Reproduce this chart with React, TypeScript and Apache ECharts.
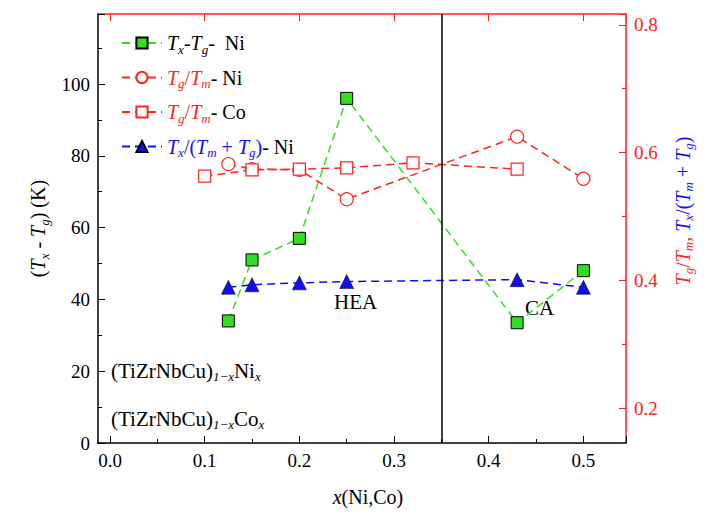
import React, { useEffect, useRef } from 'react';
import * as echarts from 'echarts';

const xNi = [0.125, 0.15, 0.2, 0.25, 0.43, 0.5];
const xCo = [0.1, 0.15, 0.2, 0.25, 0.32, 0.43];
const dTNi = [34, 51, 57, 96, 33.5, 48];
const tgTmNi = [0.582, 0.574, 0.573, 0.527, 0.625, 0.559];
const tgTmCo = [0.563, 0.573, 0.574, 0.576, 0.584, 0.574];
const gammaNi = [0.389, 0.393, 0.396, 0.398, 0.401, 0.389];

const FONT = '"Liberation Serif", "DejaVu Serif", serif';
const GREEN = '#33dd22';
const RED = '#ff2222';
const BLUE = '#1010ee';

const pair = (xs: number[], ys: number[]) => xs.map((x, i) => [x, ys[i]]);

const rich = (c: string) => ({
  i: { fontFamily: FONT, fontSize: 20, fontStyle: 'italic', color: c },
  s: { fontFamily: FONT, fontSize: 13, fontStyle: 'italic', color: c, verticalAlign: 'bottom', padding: [12, 0, 0, 0] },
  n: { fontFamily: FONT, fontSize: 20, color: c },
  k: { fontFamily: FONT, fontSize: 20, color: '#000' },
});

const App: React.FC = () => {
  const ref = useRef<HTMLDivElement>(null);

  useEffect(() => {
    if (!ref.current) return;
    const chart = echarts.init(ref.current, undefined, { renderer: 'svg' });
    const tick = { inside: true, length: 7, lineStyle: { color: '#000' } };
    const minor = { show: true, splitNumber: 2, length: 4, lineStyle: { color: '#000' } };
    const legendRich = {
      ...rich('#000'),
      ri: rich(RED).i, rs: rich(RED).s, rn: rich(RED).n,
      bi: rich(BLUE).i, bs: rich(BLUE).s, bn: rich(BLUE).n,
    };
    const labels: Record<string, string> = {
      a: '{i|T}{s|x}{k|-}{i|T}{s|g}{k|-  Ni}',
      b: '{ri|T}{rs|g}{rn|/}{ri|T}{rs|m}{k|- Ni}',
      c: '{ri|T}{rs|g}{rn|/}{ri|T}{rs|m}{k|- Co}',
      d: '{bi|T}{bs|x}{bn|/(}{bi|T}{bs|m}{bn| + }{bi|T}{bs|g}{bn|)}{k|- Ni}',
    };
    const sub = {
      n: { fontFamily: FONT, fontSize: 21, fill: '#000' },
      s: { fontFamily: FONT, fontSize: 13, fontStyle: 'italic', fill: '#000', verticalAlign: 'bottom', padding: [12, 0, 0, 0] },
    };
    chart.setOption({
      animation: false,
      textStyle: { fontFamily: FONT },
      grid: [
        { left: 102, right: 79, top: 6, bottom: 78 },
        { left: 102, right: 79, top: 6, bottom: 113 },
      ],
      legend: {
        orient: 'vertical', left: 108, top: 20, itemGap: 12, itemWidth: 40, itemHeight: 14,
        formatter: (n: string) => labels[n],
        textStyle: { fontFamily: FONT, rich: legendRich },
        data: ['a', 'b', 'c', 'd'],
      },
      xAxis: [
        {
          type: 'value', gridIndex: 0, min: 0, max: 0.545, interval: 0.1,
          axisLine: { onZero: false, lineStyle: { color: '#000', width: 1.5 } },
          axisTick: tick, minorTick: minor, splitLine: { show: false },
          axisLabel: {
            fontFamily: FONT, fontSize: 19, color: '#000', showMaxLabel: false,
            formatter: (v: number) => v.toFixed(1),
          },
          name: '{i|x}{n|(Ni,Co)}', nameLocation: 'middle', nameGap: 44,
          nameTextStyle: { rich: rich('#000') },
        },
        {
          type: 'value', gridIndex: 0, position: 'top', min: 0, max: 0.545, interval: 0.1,
          axisLine: { onZero: false, lineStyle: { color: RED, width: 1.5 } },
          axisTick: { inside: true, length: 7, lineStyle: { color: RED } },
          axisLabel: { show: false }, splitLine: { show: false },
        },
        {
          type: 'value', gridIndex: 1, min: 0, max: 0.545, show: false,
        },
      ],
      yAxis: [
        {
          type: 'value', gridIndex: 0, min: 0, max: 119.5, interval: 20, offset: 12,
          axisLine: { show: true, onZero: false, lineStyle: { color: '#000', width: 1.5 } },
          axisTick: tick, minorTick: minor, splitLine: { show: false },
          axisLabel: { fontFamily: FONT, fontSize: 19, color: '#000', showMaxLabel: false },
          name: '{n|(}{i|T}{s|x}{n| - }{i|T}{s|g}{n|) (K)}', nameLocation: 'middle', nameGap: 44, nameRotate: 90,
          nameTextStyle: { rich: rich('#000') },
        },
        {
          type: 'value', gridIndex: 1, position: 'right', min: 0.2, max: 0.817, interval: 0.2,
          axisLine: { show: true, onZero: false, lineStyle: { color: RED, width: 1.5 } },
          axisTick: { inside: true, length: 7, lineStyle: { color: RED } },
          minorTick: { show: true, splitNumber: 2, length: 4, lineStyle: { color: RED } },
          splitLine: { show: false },
          axisLabel: { fontFamily: FONT, fontSize: 19, color: RED, formatter: (v: number) => v.toFixed(1) },
          name: '{ri|T}{rs|g}{rn|/}{ri|T}{rs|m}{rn|, }{bi|T}{bs|x}{bn|/(}{bi|T}{bs|m}{bn| + }{bi|T}{bs|g}{bn|)}',
          nameLocation: 'middle', nameGap: 44, nameRotate: 90,
          nameTextStyle: { rich: legendRich },
        },
      ],
      series: [
        {
          name: 'a', type: 'line', data: pair(xNi, dTNi), xAxisIndex: 0, yAxisIndex: 0,
          symbol: 'rect', symbolSize: 12,
          itemStyle: { color: GREEN, borderColor: '#000', borderWidth: 1 },
          lineStyle: { color: GREEN, type: [8, 5], width: 1.5 },
          markLine: {
            silent: true, symbol: 'none', label: { show: false },
            lineStyle: { color: '#000', type: 'solid', width: 1.5 },
            data: [{ xAxis: 0.35 }],
          },
        },
        {
          name: 'b', type: 'line', data: pair(xNi, tgTmNi), xAxisIndex: 2, yAxisIndex: 1,
          symbol: 'circle', symbolSize: 13,
          itemStyle: { color: '#fff', borderColor: RED, borderWidth: 1.2 },
          lineStyle: { color: RED, type: [8, 5], width: 1.5 },
        },
        {
          name: 'c', type: 'line', data: pair(xCo, tgTmCo), xAxisIndex: 2, yAxisIndex: 1,
          symbol: 'rect', symbolSize: 12,
          itemStyle: { color: '#fff', borderColor: RED, borderWidth: 1.2 },
          lineStyle: { color: RED, type: [8, 5], width: 1.5 },
        },
        {
          name: 'd', type: 'line', data: pair(xNi, gammaNi), xAxisIndex: 2, yAxisIndex: 1,
          symbol: 'triangle', symbolSize: 14,
          itemStyle: { color: BLUE, borderColor: '#000', borderWidth: 0.5 },
          lineStyle: { color: BLUE, type: [8, 5], width: 1.5 },
        },
      ],
      graphic: [
        { type: 'line', shape: { x1: 618, y1: 400, x2: 618, y2: 435 }, style: { stroke: RED, lineWidth: 1.5 } },
        { type: 'line', shape: { x1: 89, y1: 6, x2: 102, y2: 6 }, style: { stroke: RED, lineWidth: 1.5 } },
        { type: 'line', shape: { x1: 89, y1: 435, x2: 102, y2: 435 }, style: { stroke: '#000', lineWidth: 1.5 } },
        { type: 'text', left: 326, top: 283, style: { text: 'HEA', fontFamily: FONT, fontSize: 21, fill: '#000' } },
        { type: 'text', left: 517, top: 289, style: { text: 'CA', fontFamily: FONT, fontSize: 21, fill: '#000' } },
        { type: 'text', left: 103, top: 352, style: { text: '{n|(TiZrNbCu)}{s|1−x}{n|Ni}{s|x}', rich: sub } },
        { type: 'text', left: 103, top: 400, style: { text: '{n|(TiZrNbCu)}{s|1−x}{n|Co}{s|x}', rich: sub } },
      ],
    });
    return () => chart.dispose();
  }, []);

  return <div ref={ref} style={{ width: 697, height: 513 }} />;
};

export default App;
